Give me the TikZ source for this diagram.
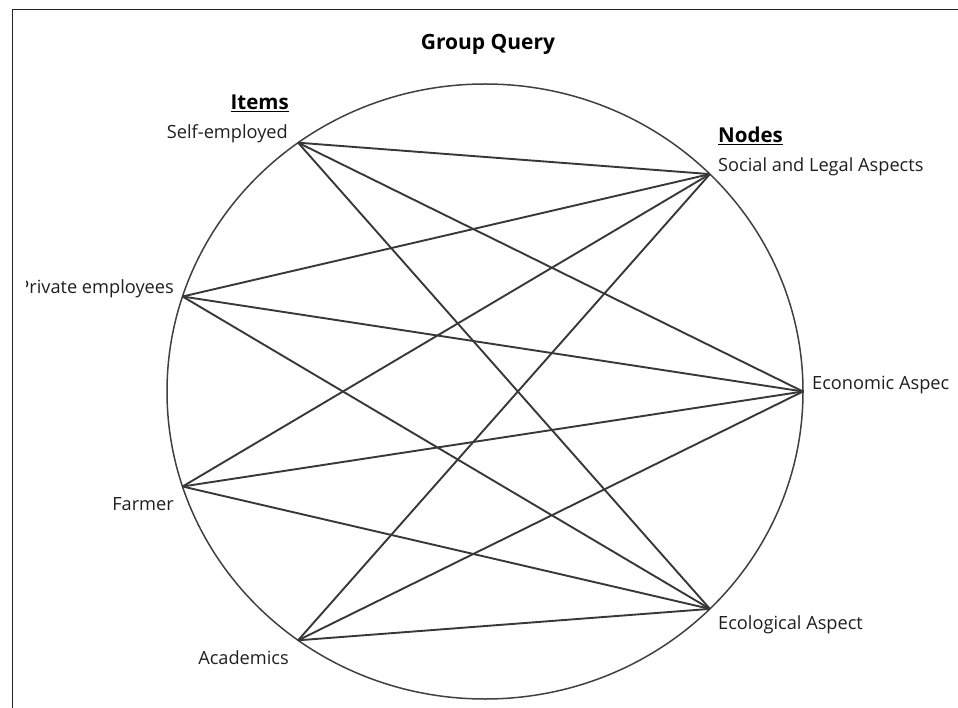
\documentclass[tikz,border=0pt]{standalone}
\usepackage{fontspec}
\setmainfont{Open Sans}
\begin{document}
\begin{tikzpicture}[x=1pt,y=-1pt,
  lbl/.style={inner sep=0pt, font=\fontsize{18.2}{21}\selectfont, text=black!88},
  hdr/.style={inner sep=0pt, font=\fontsize{20.5}{24}\selectfont\bfseries, text=black},
  edge/.style={draw=black!78, line width=1.9pt},
  ring/.style={draw=black!75, line width=1.5pt},
  frame/.style={draw=black!85, line width=1.8pt}]
\useasboundingbox (0,0) rectangle (958,708);
\clip (0,0) rectangle (958,708);
% frame
\coordinate (f1) at (958,9.5);
\coordinate (f2) at (12.5,9.5);
\coordinate (f3) at (12.5,708);
\draw[frame] (f1) -- (f2) -- (f3);
% circle
\coordinate (c) at (485,391.5);
\draw[ring] (c) ellipse [x radius=318, y radius=307.5];
% points
\coordinate (self) at (298.1,142.7);
\coordinate (priv) at (182.6,296.5);
\coordinate (farm) at (182.6,486.5);
\coordinate (acad) at (298.1,640.3);
\coordinate (soc)  at (709.9,174.1);
\coordinate (eco)  at (803,391.5);
\coordinate (ecol) at (709.9,608.9);
\foreach \a in {self,priv,farm,acad}
  \foreach \b in {soc,eco,ecol}
    \draw[edge] (\a) -- (\b);
% texts
\node[hdr, font=\fontsize{21}{25}\selectfont\bfseries] (title) at (488,44) {Group Query};
\node[hdr, anchor=east] (items) at (289,103) {\underline{Items}};
\node[lbl, anchor=east] (tself) at (288,134) {Self-employed};
\node[hdr, anchor=west] (nodes) at (718,136) {\underline{Nodes}};
\node[lbl, anchor=west] (tsoc) at (718,167) {Social and Legal Aspects};
\begin{scope}
\clip (26,250) rectangle (200,320);
\node[lbl, anchor=east] (tpriv) at (174,289) {Private employees};
\end{scope}
\begin{scope}
\clip (800,360) rectangle (948,410);
\node[lbl, anchor=west] (teco) at (812,385) {Economic Aspect};
\end{scope}
\node[lbl, anchor=east] (tfarm) at (174,504) {Farmer};
\node[lbl, anchor=east] (tacad) at (289,658) {Academics};
\node[lbl, anchor=west] (tecol) at (718,625) {Ecological Aspect};
\end{tikzpicture}
\end{document}
